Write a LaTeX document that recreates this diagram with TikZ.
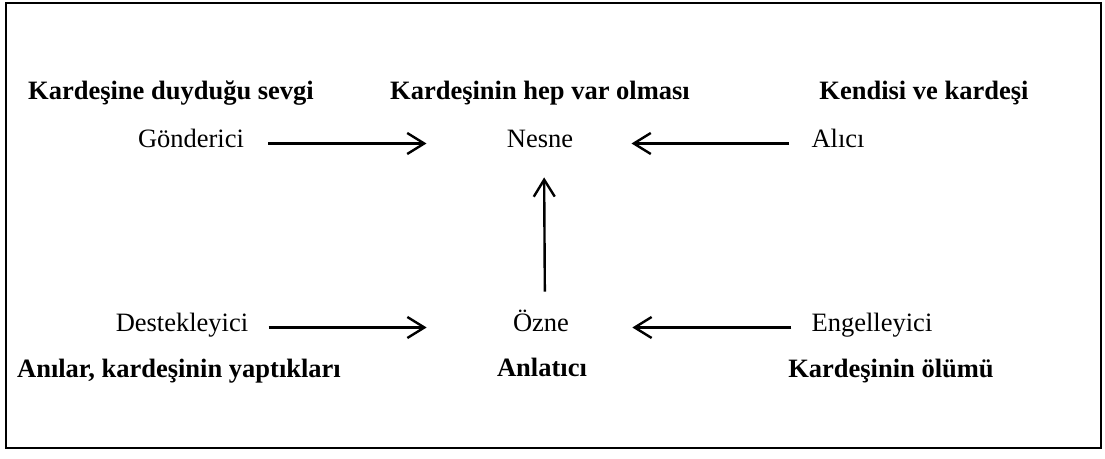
\documentclass[tikz,border=0pt]{standalone}
\usepackage{fontspec}
\setmainfont{Liberation Serif}
\usetikzlibrary{arrows.meta,positioning}

\begin{document}
\begin{tikzpicture}[x=0.5pt, y=-0.5pt, lbl/.style={font=\fontsize{13.25}{15}\selectfont\bfseries}, arr/.style={line width=1.2pt, -{Straight Barb[length=8.5pt,width=10.5pt,line width=1.2pt]}}]
\tikzstyle{actant}=[anchor=base, inner sep=0pt, text height=0.7em, text depth=0.25em, font=\fontsize{13.25}{15}\selectfont]
\useasboundingbox (0,0) rectangle (1105,459);
\draw[line width=1pt] (6,3) rectangle (1101,448);
% actants
\node[actant] (gon) at (191,148) {Gönderici};
\node[actant] (nesne) at (540,148) {Nesne};
\node[actant] (alici) at (838,148) {Alıcı};
\node[actant] (des) at (182,332) {Destekleyici};
\node[actant] (ozne) at (541,332) {Özne};
\node[actant] (eng) at (872,332) {Engelleyici};
% labels
\node[lbl, anchor=base] (gonl) at (171,100) {Kardeşine duyduğu sevgi};
\node[lbl, anchor=base] (nesnel) at (540,100) {Kardeşinin hep var olması};
\node[lbl, anchor=base] (alicil) at (924,100) {Kendisi ve kardeşi};
\node[lbl, anchor=base] (desl) at (179,378) {Anılar, kardeşinin yaptıkları};
\node[lbl, anchor=base] (oznel) at (542,377) {Anlatıcı};
\node[lbl, anchor=base] (engl) at (891,378) {Kardeşinin ölümü};
\foreach \i/\j/\s/\t/\x in {gon.east/nesne.west/12/40/0,des.east/ozne.west/10/43/0,alici.west/nesne.east/11/29/0,eng.west/ozne.east/10/31.5/0,ozne.north/nesne.south/13/12/2}{\draw[arr, shorten <=\s pt, shorten >=\t pt] ([xshift=\x pt]\i) -- ([xshift=\x pt]\j);}
\end{tikzpicture}
\end{document}
